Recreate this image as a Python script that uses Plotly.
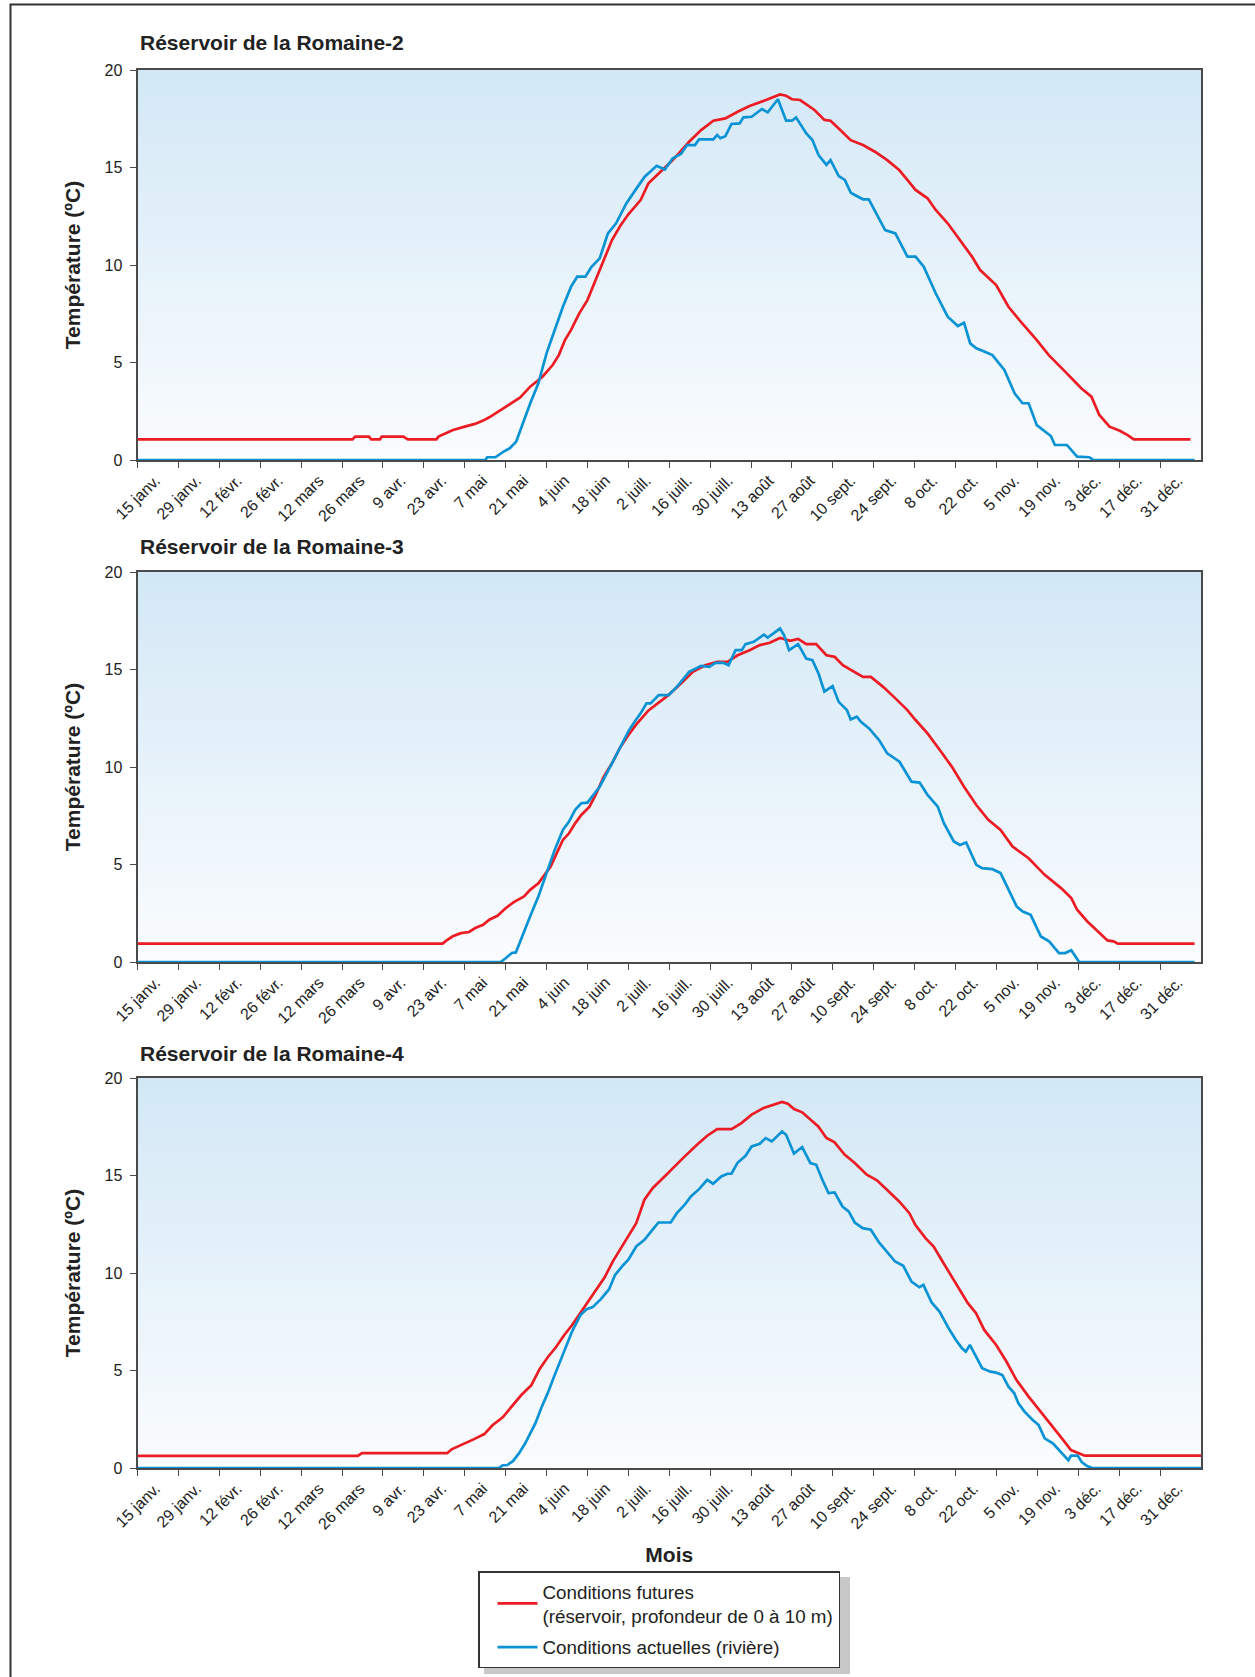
import plotly.graph_objects as go

# ---------------- data ----------------
# x = days counted from 15 January (tick "15 janv." = 0)
TICK_DAYS = list(range(0, 351, 14))
TICK_LABELS = ["15 janv.", "29 janv.", "12 févr.", "26 févr.", "12 mars", "26 mars",
               "9 avr.", "23 avr.", "7 mai", "21 mai", "4 juin", "18 juin", "2 juill.",
               "16 juill.", "30 juill.", "13 août", "27 août", "10 sept.", "24 sept.",
               "8 oct.", "22 oct.", "5 nov.", "19 nov.", "3 déc.", "17 déc.", "31 déc."]
Y_TICKS = [0, 5, 10, 15, 20]
X_RANGE = [0, 364]
Y_RANGE = [0, 20]

PANEL_TITLES = ["Réservoir de la Romaine-2", "Réservoir de la Romaine-3", "Réservoir de la Romaine-4"]
SERIES_NAMES = ["Conditions futures<br>(réservoir, profondeur de 0 à 10 m)",
                "Conditions actuelles (rivière)"]
Y_TITLE = "Température (ºC)"
X_TITLE = "Mois"

# Romaine-2
R2_FUT_DAY = [0, 73.6, 74.5, 79.2, 80, 83, 83.6, 91, 92.5, 102.3, 103, 106.5, 108, 112, 115.5,
              118.3, 120.4, 124, 127.4, 131, 134.4, 138.6, 142.1, 144.2, 146.3, 148.4, 151.2, 154,
              156.8, 159.6, 162.4, 165.2, 168, 172.2, 174.9, 179.1, 183.2, 188.8, 192.9, 197.1,
              201.2, 205.4, 209.5, 215.1, 217.8, 219.9, 222, 224, 226.8, 229.6, 231.7, 235.1,
              237.2, 240, 244.1, 248.3, 252.4, 256.6, 260.7, 263.5, 266.3, 270.4, 273.2, 277.3,
              281.5, 285.6, 288.4, 293.9, 298.1, 302.3, 307.8, 311.9, 317.5, 323, 326.5, 329.2,
              332.7, 336.2, 338.9, 341, 360.4]
R2_FUT_TEMP = [1.06, 1.06, 1.2, 1.2, 1.06, 1.06, 1.2, 1.2, 1.06, 1.06, 1.2, 1.44, 1.54, 1.71, 1.85,
               2.02, 2.19, 2.53, 2.87, 3.21, 3.76, 4.27, 4.87, 5.38, 6.15, 6.67, 7.52, 8.2,
               9.23, 10.26, 11.28, 12.0, 12.6, 13.33, 14.19, 14.79, 15.38, 16.32, 16.92, 17.4,
               17.52, 17.86, 18.15, 18.46, 18.63, 18.75, 18.68, 18.5, 18.46, 18.15, 17.95, 17.44,
               17.4, 17.0, 16.4, 16.15, 15.81, 15.38, 14.87, 14.36, 13.85, 13.42, 12.82, 12.14,
               11.28, 10.43, 9.74, 8.97, 7.86, 7.09, 6.15, 5.38, 4.53, 3.68, 3.25, 2.31,
               1.71, 1.5, 1.28, 1.06, 1.06]
R2_ACT_DAY = [0, 119, 119.7, 122.5, 125.3, 127.4, 129.6, 132.3, 134.4, 137.2, 140, 142.8, 145.6,
              148.4, 150.5, 153.3, 155.4, 158.2, 161, 163.8, 167.3, 170.8, 173.6, 177.7, 180.5,
              183.2, 186, 188.1, 190.8, 192.2, 197.1, 198.4, 199.5, 201.2, 203.3, 206.1, 207.4,
              210.2, 213.7, 215.7, 219.2, 220.6, 222, 224, 225.4, 228.9, 231, 233.1, 235.8,
              237.2, 240, 242.1, 244.1, 245.5, 248.3, 250.3, 252.4, 255.9, 259.4, 263.5, 266.3,
              269.1, 273.2, 277.3, 280.8, 282.9, 285, 287.1, 289.8, 292.6, 296.7, 300.2, 302.9,
              305, 307.8, 310.5, 312.6, 314, 318.1, 321.6, 325.8, 327.2, 361.8]
R2_ACT_TEMP = [0, 0, 0.14, 0.14, 0.43, 0.6, 0.94, 2.05, 2.9, 3.93, 5.47, 6.67, 7.86,
               8.89, 9.4, 9.4, 9.91, 10.34, 11.62, 12.14, 13.16, 13.93, 14.53, 15.09, 14.9,
               15.47, 15.69, 16.15, 16.15, 16.44, 16.44, 16.67, 16.5, 16.6, 17.23, 17.26, 17.57,
               17.6, 18.0, 17.83, 18.5, 17.95, 17.4, 17.4, 17.57, 16.75, 16.41, 15.64, 15.13,
               15.38, 14.56, 14.36, 13.71, 13.59, 13.37, 13.37, 12.79, 11.79, 11.62, 10.43, 10.43,
               9.91, 8.55, 7.35, 6.87, 7.04, 5.98, 5.73, 5.56, 5.38, 4.62, 3.42, 2.91,
               2.91, 1.79, 1.5, 1.23, 0.77, 0.77, 0.17, 0.14, 0, 0]

# Romaine-3
R3_FUT_DAY = [0, 104.4, 105.8, 107.9, 110.7, 113.5, 115.6, 118.3, 120.4, 123.2, 126, 128.8, 132.3,
              134.4, 137.2, 139.3, 141.4, 143.5, 145.6, 147.7, 149.8, 151.9, 154.7, 156.8, 159.6,
              162.4, 165.2, 168.3, 170.8, 174.9, 179.1, 181.8, 186, 190.1, 194.3, 198.4, 201.9,
              205.4, 209.5, 213, 216.4, 219.9, 223.4, 226.1, 228.9, 232.3, 235.8, 238.6, 241.4,
              245.5, 248.3, 251, 255.2, 259.4, 263.5, 266.3, 270.4, 274.6, 278.7, 282.9, 287.1,
              291.2, 295.4, 299.5, 305, 310.5, 316.1, 319.6, 321.6, 325.1, 328.6, 332, 334.1,
              335.5, 361.8]
R3_FUT_TEMP = [0.94, 0.94, 1.11, 1.32, 1.48, 1.54, 1.74, 1.91, 2.17, 2.37, 2.76, 3.07, 3.36,
               3.7, 4.04, 4.47, 4.9, 5.58, 6.26, 6.6, 7.11, 7.54, 7.97, 8.57, 9.51,
               10.19, 11.0, 11.7, 12.2, 12.9, 13.4, 13.7, 14.28, 14.88, 15.22, 15.39, 15.39,
               15.73, 15.99, 16.25, 16.37, 16.62, 16.47, 16.57, 16.3, 16.3, 15.73, 15.65, 15.22,
               14.88, 14.62, 14.62, 14.11, 13.52, 12.92, 12.41, 11.72, 10.87, 10.02, 8.99, 8.05,
               7.29, 6.77, 5.92, 5.32, 4.47, 3.79, 3.28, 2.68, 2.08, 1.57, 1.11, 1.06,
               0.94, 0.94]
R3_ACT_DAY = [0, 124.3, 126, 128.1, 129.5, 131.6, 134.4, 137.2, 140, 142.8, 145.6, 147.7, 149.8,
              151.9, 154, 156.1, 158.2, 162.4, 165.2, 168.3, 170.5, 172.2, 174.2, 175.6, 178.4,
              181.8, 184.6, 188.8, 192.9, 195.7, 197.8, 200.5, 202.3, 204.7, 206.8, 208.1, 210.9,
              214.4, 215.7, 219.9, 221.3, 223, 226.1, 228.9, 231, 233.1, 235.1, 237.9, 240,
              242.8, 244.1, 246.2, 247.6, 250.4, 253.8, 256.6, 260.8, 264.9, 267.7, 270.4, 273.9,
              276, 279.4, 281.5, 283.6, 285.6, 287.1, 289.1, 292.6, 295.4, 298.1, 300.9, 303,
              305.7, 309.2, 312, 315.4, 317.5, 319.6, 322.3, 361.8]
R3_ACT_TEMP = [0, 0, 0.19, 0.46, 0.49, 1.31, 2.34, 3.36, 4.56, 5.75, 6.77, 7.2, 7.8,
               8.14, 8.17, 8.57, 8.99, 10.19, 11.04, 11.9, 12.4, 12.75, 13.26, 13.26, 13.69,
               13.69, 14.11, 14.88, 15.19, 15.14, 15.34, 15.34, 15.22, 15.99, 15.99, 16.3, 16.42,
               16.79, 16.64, 17.1, 16.76, 15.99, 16.3, 15.56, 15.48, 14.79, 13.86, 14.15, 13.34,
               12.92, 12.44, 12.58, 12.32, 11.98, 11.38, 10.7, 10.27, 9.25, 9.2, 8.57, 7.97,
               7.12, 6.18, 6.0, 6.13, 5.49, 4.98, 4.81, 4.76, 4.56, 3.7, 2.85, 2.59,
               2.42, 1.31, 1.06, 0.46, 0.46, 0.6, 0, 0]

# Romaine-4
R4_FUT_DAY = [0, 75.4, 76.8, 106, 107.5, 109.6, 112.4, 115.2, 118.7, 121.5, 125, 129.2, 131.3,
              134.8, 137.6, 140.4, 143.2, 146, 148.7, 151.5, 154.3, 157.1, 159.9, 162.7, 165.5,
              168, 170.7, 173.5, 176.3, 180.4, 183.2, 187.3, 191.5, 195, 198.4, 203.3, 206.7,
              210.2, 214.3, 217.8, 220.6, 222.6, 224.7, 227.5, 230.3, 233, 235.8, 238.6, 242,
              245.5, 249.6, 253.1, 256.5, 260.7, 264.2, 266.2, 269.7, 272.5, 275.9, 280.1, 284.2,
              287, 289.8, 293.9, 297.4, 300.8, 305, 309.1, 313.3, 316.8, 319.5, 321.5, 324.2, 364]
R4_FUT_TEMP = [0.62, 0.62, 0.76, 0.76, 0.96, 1.1, 1.27, 1.48, 1.74, 2.19, 2.6, 3.32, 3.73,
               4.25, 5.07, 5.68, 6.19, 6.81, 7.32, 7.94, 8.55, 9.17, 9.78, 10.6, 11.3,
               11.87, 12.56, 13.76, 14.35, 14.95, 15.38, 15.98, 16.58, 17.04, 17.38, 17.38, 17.69,
               18.12, 18.46, 18.63, 18.77, 18.68, 18.41, 18.24, 17.86, 17.52, 16.92, 16.7, 16.07,
               15.64, 15.04, 14.75, 14.27, 13.67, 13.07, 12.47, 11.79, 11.36, 10.5, 9.48, 8.45,
               7.94, 7.08, 6.31, 5.46, 4.52, 3.66, 2.89, 2.12, 1.44, 0.92, 0.8, 0.63, 0.63]
R4_ACT_DAY = [0, 123.6, 125, 126.4, 128.5, 130.6, 132.7, 134.8, 136.2, 138.3, 140.4, 142.5, 144.6,
              146.7, 148.8, 151.6, 153.7, 155.8, 158.6, 161.4, 163.4, 166.2, 168, 170.7, 173.5,
              176.3, 178.3, 182.5, 184.6, 187.3, 189.4, 192.2, 195, 197, 199.8, 201.9, 203.3,
              205.3, 208.1, 210.2, 213, 215, 217.1, 220.6, 222, 224.7, 227.5, 230.3, 232.3,
              234.4, 236.5, 238.6, 241.3, 243.4, 245.5, 248.2, 251, 253.8, 256.6, 259.3, 262.1,
              264.9, 267.6, 269, 271.8, 274.5, 277.3, 280.1, 282.2, 283.5, 284.9, 287, 289.1,
              291.9, 293.9, 296, 298.1, 300.1, 301.5, 303.6, 306.4, 308.4, 310.5, 313.3, 315.4,
              317.5, 318.6, 319.5, 321.8, 323.2, 325, 326.8, 364]
R4_ACT_TEMP = [0, 0, 0.14, 0.14, 0.35, 0.76, 1.27, 1.89, 2.3, 3.12, 3.84, 4.66, 5.48,
               6.3, 7.02, 7.84, 8.14, 8.25, 8.66, 9.17, 9.89, 10.4, 10.68, 11.36, 11.7,
               12.22, 12.59, 12.59, 13.07, 13.5, 13.93, 14.3, 14.78, 14.58, 14.95, 15.09, 15.09,
               15.64, 16.01, 16.49, 16.63, 16.92, 16.75, 17.26, 17.09, 16.12, 16.46, 15.64, 15.55,
               14.78, 14.1, 14.13, 13.41, 13.16, 12.59, 12.3, 12.22, 11.57, 11.1, 10.59, 10.37,
               9.56, 9.27, 9.39, 8.49, 8.02, 7.25, 6.57, 6.14, 5.97, 6.31, 5.71, 5.12,
               4.94, 4.89, 4.77, 4.17, 3.83, 3.32, 2.89, 2.46, 2.21, 1.52, 1.27, 0.92,
               0.55, 0.4, 0.63, 0.63, 0.3, 0.1, 0, 0]

PANELS = [
    (R2_FUT_DAY, R2_FUT_TEMP, R2_ACT_DAY, R2_ACT_TEMP),
    (R3_FUT_DAY, R3_FUT_TEMP, R3_ACT_DAY, R3_ACT_TEMP),
    (R4_FUT_DAY, R4_FUT_TEMP, R4_ACT_DAY, R4_ACT_TEMP),
]

# ---------------- style / layout ----------------
W, H = 1255, 1677
FONT = "Liberation Sans, Arial, Helvetica, sans-serif"
RED = "#ec1c24"
BLUE = "#0a93d4"
AXIS_COLOR = "#4a4a4a"
TEXT_COLOR = "#222222"
BG_TOP = (211, 232, 246)
BG_BOTTOM = (250, 252, 254)

PLOT_LEFT, PLOT_RIGHT = 137.5, 1201
PANEL_PX = [(70, 460), (572, 962), (1078, 1468)]   # (top, bottom) pixel rows
TITLE_Y = [42, 546, 1053]


def px_x(x):
    return x / W


def px_y(y):
    return 1 - y / H


fig = go.Figure()
shapes = []
annotations = []

for i, (fd, ft, ad, at) in enumerate(PANELS):
    n = i + 1
    xa = "x" if n == 1 else f"x{n}"
    ya = "y" if n == 1 else f"y{n}"
    fig.add_trace(go.Scatter(x=fd, y=ft, mode="lines", name=SERIES_NAMES[0],
                             line=dict(color=RED, width=2.7), xaxis=xa, yaxis=ya,
                             showlegend=(n == 1), legendgroup="fut", cliponaxis=False))
    fig.add_trace(go.Scatter(x=ad, y=at, mode="lines", name=SERIES_NAMES[1],
                             line=dict(color=BLUE, width=2.7), xaxis=xa, yaxis=ya,
                             showlegend=(n == 1), legendgroup="act", cliponaxis=False))

    top, bot = PANEL_PX[i]
    xkey = "xaxis" if n == 1 else f"xaxis{n}"
    ykey = "yaxis" if n == 1 else f"yaxis{n}"
    axis_common = dict(showgrid=False, zeroline=False, showline=True, linecolor=AXIS_COLOR,
                       linewidth=1.8, mirror=True, ticks="outside", tickcolor=AXIS_COLOR,
                       tickwidth=1.3, ticklen=6, layer="below traces", automargin=False,
                       tickfont=dict(family=FONT, size=16, color=TEXT_COLOR))
    fig.update_layout({
        xkey: dict(axis_common, domain=[px_x(PLOT_LEFT), px_x(PLOT_RIGHT)], range=X_RANGE,
                   anchor=ya, tickmode="array", tickvals=TICK_DAYS, ticktext=TICK_LABELS,
                   tickangle=-45, ticklabelshift=18, ticklabelstandoff=-3),
        ykey: dict(axis_common, domain=[px_y(bot), px_y(top)], range=Y_RANGE, anchor=xa,
                   tickmode="array", tickvals=Y_TICKS, ticklabelstandoff=4,
                   title=dict(text=Y_TITLE, standoff=18,
                              font=dict(family=FONT, size=21, color=TEXT_COLOR, weight="bold"))),
    })

    # vertical gradient background made of thin bands
    nb = 60
    for k in range(nb):
        f = k / (nb - 1)
        c = tuple(round(BG_BOTTOM[j] + (BG_TOP[j] - BG_BOTTOM[j]) * f) for j in range(3))
        shapes.append(dict(type="rect", xref=f"{xa} domain", yref=f"{ya} domain",
                           x0=0, x1=1, y0=k / nb, y1=min(1, (k + 1.6) / nb),
                           fillcolor=f"rgb{c}", line=dict(width=0), layer="below"))

    annotations.append(dict(text=f"<b>{PANEL_TITLES[i]}</b>", xref="paper", yref="paper",
                            x=px_x(138), y=px_y(TITLE_Y[i]), xanchor="left", yanchor="middle",
                            showarrow=False, font=dict(family=FONT, size=21, color=TEXT_COLOR)))

fig.update_layout(xaxis3_title=dict(text=X_TITLE, standoff=16,
                                    font=dict(family=FONT, size=21, color=TEXT_COLOR, weight="bold")))

# outer frame (top + left visible)
shapes.append(dict(type="rect", xref="paper", yref="paper", x0=px_x(10.5), x1=1.05,
                   y0=-0.05, y1=px_y(4.5), line=dict(color="#333333", width=2),
                   fillcolor="rgba(0,0,0,0)", layer="above"))
# legend drop shadow
shapes.append(dict(type="rect", xref="paper", yref="paper", x0=px_x(484), x1=px_x(850),
                   y0=px_y(1674), y1=px_y(1577), fillcolor="#c8c8c8", line=dict(width=0),
                   layer="above"))

fig.update_layout(
    width=W, height=H,
    margin=dict(l=0, r=0, t=0, b=0, autoexpand=False),
    paper_bgcolor="white", plot_bgcolor="white",
    font=dict(family=FONT, color=TEXT_COLOR),
    shapes=shapes, annotations=annotations,
    showlegend=True,
    legend=dict(x=px_x(478), y=px_y(1571), xanchor="left", yanchor="top",
                bgcolor="white", bordercolor="#333333", borderwidth=1.5,
                font=dict(family=FONT, size=18.8, color=TEXT_COLOR),
                tracegroupgap=4, itemwidth=40, indentation=13),
)

fig.write_html("out.html", config={"displayModeBar": False},
               post_script="document.body.style.margin='0';document.body.style.overflow='hidden';")
